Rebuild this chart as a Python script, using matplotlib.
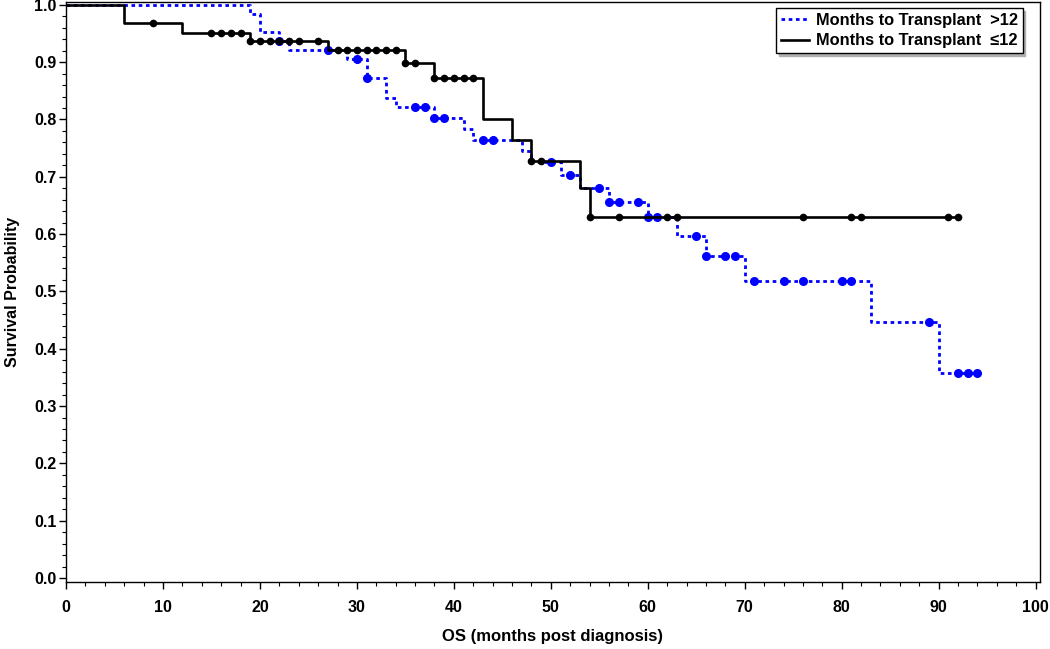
import numpy as np
import matplotlib
matplotlib.use("Agg")
import matplotlib.pyplot as plt
from matplotlib.ticker import MultipleLocator

plt.rcParams['font.family'] = ['Liberation Sans Narrow', 'Liberation Sans', 'DejaVu Sans']
plt.rcParams['font.weight'] = 'bold'

# Kaplan-Meier steps
le12_times = [0, 6, 12, 19, 27, 35, 38, 43, 46, 48, 53, 54]
le12_surv = [1.0, 0.968, 0.950, 0.937, 0.922, 0.899, 0.873, 0.800, 0.764, 0.727, 0.680, 0.630]
le12_end = 92
le12_censor = [9, 15, 16, 17, 18, 19, 20, 21, 22, 23, 24, 26, 28, 29, 30, 31, 32, 33, 34,
               35, 36, 38, 39, 40, 41, 42, 48, 49, 54, 57, 62, 63, 76, 81, 82, 91, 92]

gt12_times = [0, 19, 20, 22, 23, 29, 31, 33, 34, 38, 41, 42, 47, 48, 51, 53, 56, 60, 63,
              66, 70, 83, 90]
gt12_surv = [1.0, 0.984, 0.952, 0.937, 0.921, 0.905, 0.872, 0.838, 0.821, 0.802, 0.784,
             0.765, 0.745, 0.726, 0.703, 0.680, 0.656, 0.629, 0.597, 0.561, 0.519, 0.446, 0.357]
gt12_end = 94
gt12_censor = [22, 27, 30, 31, 36, 37, 38, 39, 43, 44, 50, 52, 55, 56, 57, 59, 60, 61, 65,
               66, 68, 69, 71, 74, 76, 80, 81, 89, 92, 93, 94]


def surv_at(times, surv, t):
    idx = np.searchsorted(times, t, side='right') - 1
    return np.array(surv)[idx]


fig = plt.figure(figsize=(10.5, 6.49), dpi=100)
ax = fig.add_axes([0.0629, 0.1032, 0.9271, 0.8938])

# >12 group (blue dotted)
bx = gt12_times + [gt12_end]
by = gt12_surv + [gt12_surv[-1]]
ax.step(bx, by, where='post', color='#0000FF', lw=2.0, ls=(0, (1.3, 1.3)),
        label='Months to Transplant  >12', zorder=2)
ax.plot(gt12_censor, surv_at(gt12_times, gt12_surv, gt12_censor), 'o', color='#0000FF',
        ms=5.5, mec='#0000FF', zorder=3)

# <=12 group (black solid)
kx = le12_times + [le12_end]
ky = le12_surv + [le12_surv[-1]]
ax.step(kx, ky, where='post', color='black', lw=1.9,
        label='Months to Transplant  \u226412', zorder=4)
ax.plot(le12_censor, surv_at(le12_times, le12_surv, le12_censor), 'o', color='black',
        ms=4.5, zorder=5)

ax.set_xlim(0, 100.4)
ax.set_ylim(-0.007, 1.005)
ax.xaxis.set_major_locator(MultipleLocator(10))
ax.xaxis.set_minor_locator(MultipleLocator(2))
ax.yaxis.set_major_locator(MultipleLocator(0.1))
ax.yaxis.set_minor_locator(MultipleLocator(0.02))
ax.yaxis.set_major_formatter(plt.FuncFormatter(lambda v, p: f"{v:.1f}"))
ax.tick_params(which='major', length=5, width=1, labelsize=11.5)
ax.tick_params(which='minor', length=3, width=0.8)
ax.tick_params(axis='x', pad=8)
ax.tick_params(axis='y', pad=2)
for lab in ax.get_xticklabels() + ax.get_yticklabels():
    lab.set_fontweight('bold')

ax.set_xlabel('OS (months post diagnosis)', fontsize=12, fontweight='bold', labelpad=10)
ax.set_ylabel('Survival Probability', fontsize=11.5, fontweight='bold', labelpad=10,
              family=['Liberation Sans', 'DejaVu Sans'])

for s in ax.spines.values():
    s.set_linewidth(1.0)

leg = ax.legend(loc='upper right', bbox_to_anchor=(0.991, 1.004), frameon=True,
                fancybox=False, shadow={'color': '#b0b0b0', 'alpha': 1.0},
                edgecolor='black', framealpha=1, handlelength=1.7, handletextpad=0.4,
                borderpad=0.3, labelspacing=0.35, prop={'weight': 'bold', 'size': 11.8})
leg.get_frame().set_linewidth(1.0)

fig.savefig('out.png', dpi=100)
